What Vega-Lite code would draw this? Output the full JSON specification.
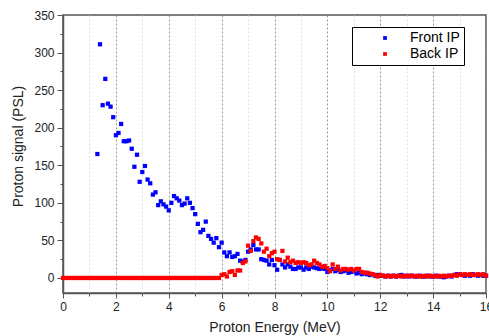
{
"$schema": "https://vega.github.io/schema/vega-lite/v6.json",
"width": 423, "height": 278,
"autosize": {"type": "none"},
"padding": {"left": 63, "top": 15, "right": 3, "bottom": 43},
"background": "white",
"config": {"view": {"stroke": "#555555", "strokeWidth": 1.5}, "font": "Liberation Sans"},
"data": {"values": [
{"s":"Front IP","e":1.3,"v":165},{"s":"Front IP","e":1.4,"v":311},{"s":"Front IP","e":1.5,"v":230},{"s":"Front IP","e":1.6,"v":265},{"s":"Front IP","e":1.7,"v":232},{"s":"Front IP","e":1.8,"v":228},{"s":"Front IP","e":1.9,"v":214},{"s":"Front IP","e":2.0,"v":190},{"s":"Front IP","e":2.1,"v":193},{"s":"Front IP","e":2.2,"v":205},
{"s":"Front IP","e":2.3,"v":182},{"s":"Front IP","e":2.4,"v":182},{"s":"Front IP","e":2.5,"v":183},{"s":"Front IP","e":2.6,"v":172},{"s":"Front IP","e":2.7,"v":148},{"s":"Front IP","e":2.8,"v":164},{"s":"Front IP","e":2.9,"v":128},{"s":"Front IP","e":3.0,"v":141},{"s":"Front IP","e":3.1,"v":149},{"s":"Front IP","e":3.2,"v":131},
{"s":"Front IP","e":3.3,"v":126},{"s":"Front IP","e":3.4,"v":111},{"s":"Front IP","e":3.5,"v":114},{"s":"Front IP","e":3.6,"v":97},{"s":"Front IP","e":3.7,"v":102},{"s":"Front IP","e":3.8,"v":98},{"s":"Front IP","e":3.9,"v":95},{"s":"Front IP","e":4.0,"v":90},{"s":"Front IP","e":4.1,"v":100},{"s":"Front IP","e":4.2,"v":109},
{"s":"Front IP","e":4.3,"v":106},{"s":"Front IP","e":4.4,"v":103},{"s":"Front IP","e":4.5,"v":97},{"s":"Front IP","e":4.6,"v":99},{"s":"Front IP","e":4.7,"v":106},{"s":"Front IP","e":4.8,"v":100},{"s":"Front IP","e":4.9,"v":93},{"s":"Front IP","e":5.0,"v":85},{"s":"Front IP","e":5.1,"v":72},{"s":"Front IP","e":5.2,"v":61},
{"s":"Front IP","e":5.3,"v":64},{"s":"Front IP","e":5.4,"v":75},{"s":"Front IP","e":5.5,"v":56},{"s":"Front IP","e":5.6,"v":52},{"s":"Front IP","e":5.7,"v":47},{"s":"Front IP","e":5.8,"v":53},{"s":"Front IP","e":5.9,"v":41},{"s":"Front IP","e":6.0,"v":47},{"s":"Front IP","e":6.1,"v":34},{"s":"Front IP","e":6.2,"v":29},
{"s":"Front IP","e":6.3,"v":34},{"s":"Front IP","e":6.4,"v":28},{"s":"Front IP","e":6.5,"v":29},{"s":"Front IP","e":6.6,"v":32},{"s":"Front IP","e":6.7,"v":23},{"s":"Front IP","e":6.8,"v":22},{"s":"Front IP","e":6.9,"v":24},{"s":"Front IP","e":7.0,"v":35},{"s":"Front IP","e":7.1,"v":38},{"s":"Front IP","e":7.2,"v":44},
{"s":"Front IP","e":7.3,"v":38},{"s":"Front IP","e":7.4,"v":38},{"s":"Front IP","e":7.5,"v":25},{"s":"Front IP","e":7.6,"v":24},{"s":"Front IP","e":7.7,"v":23},{"s":"Front IP","e":7.8,"v":18},{"s":"Front IP","e":7.9,"v":24},{"s":"Front IP","e":8.0,"v":17},{"s":"Front IP","e":8.1,"v":11},{"s":"Front IP","e":8.2,"v":24},
{"s":"Front IP","e":8.3,"v":18},{"s":"Front IP","e":8.4,"v":14},{"s":"Front IP","e":8.5,"v":18},{"s":"Front IP","e":8.6,"v":15},{"s":"Front IP","e":8.7,"v":12},{"s":"Front IP","e":8.8,"v":12},{"s":"Front IP","e":8.9,"v":14},{"s":"Front IP","e":9.0,"v":14},{"s":"Front IP","e":9.1,"v":11},{"s":"Front IP","e":9.2,"v":14},
{"s":"Front IP","e":9.3,"v":12},{"s":"Front IP","e":9.4,"v":15},{"s":"Front IP","e":9.5,"v":14},{"s":"Front IP","e":9.6,"v":13},{"s":"Front IP","e":9.7,"v":12},{"s":"Front IP","e":9.8,"v":13},{"s":"Front IP","e":9.9,"v":12},{"s":"Front IP","e":10.0,"v":8},{"s":"Front IP","e":10.1,"v":10},{"s":"Front IP","e":10.2,"v":12},
{"s":"Front IP","e":10.3,"v":9},{"s":"Front IP","e":10.4,"v":11},{"s":"Front IP","e":10.5,"v":8},{"s":"Front IP","e":10.6,"v":9},{"s":"Front IP","e":10.7,"v":10},{"s":"Front IP","e":10.8,"v":7},{"s":"Front IP","e":10.9,"v":8},{"s":"Front IP","e":11.0,"v":9},{"s":"Front IP","e":11.1,"v":6},{"s":"Front IP","e":11.2,"v":7},
{"s":"Front IP","e":11.3,"v":5},{"s":"Front IP","e":11.4,"v":6},{"s":"Front IP","e":11.5,"v":5},{"s":"Front IP","e":11.6,"v":4},{"s":"Front IP","e":11.7,"v":5},{"s":"Front IP","e":11.8,"v":3},{"s":"Front IP","e":11.9,"v":4},{"s":"Front IP","e":12.0,"v":3},{"s":"Front IP","e":12.1,"v":3},{"s":"Front IP","e":12.2,"v":2},
{"s":"Front IP","e":12.3,"v":3},{"s":"Front IP","e":12.4,"v":2},{"s":"Front IP","e":12.5,"v":3},{"s":"Front IP","e":12.6,"v":2},{"s":"Front IP","e":12.7,"v":3},{"s":"Front IP","e":12.8,"v":4},{"s":"Front IP","e":12.9,"v":2},{"s":"Front IP","e":13.0,"v":3},{"s":"Front IP","e":13.1,"v":2},{"s":"Front IP","e":13.2,"v":3},
{"s":"Front IP","e":13.3,"v":2},{"s":"Front IP","e":13.4,"v":2},{"s":"Front IP","e":13.5,"v":3},{"s":"Front IP","e":13.6,"v":2},{"s":"Front IP","e":13.7,"v":2},{"s":"Front IP","e":13.8,"v":3},{"s":"Front IP","e":13.9,"v":2},{"s":"Front IP","e":14.0,"v":2},{"s":"Front IP","e":14.1,"v":3},{"s":"Front IP","e":14.2,"v":2},
{"s":"Front IP","e":14.3,"v":2},{"s":"Front IP","e":14.4,"v":1},{"s":"Front IP","e":14.5,"v":2},{"s":"Front IP","e":14.6,"v":3},{"s":"Front IP","e":14.7,"v":2},{"s":"Front IP","e":14.8,"v":4},{"s":"Front IP","e":14.9,"v":5},{"s":"Front IP","e":15.0,"v":5},{"s":"Front IP","e":15.1,"v":4},{"s":"Front IP","e":15.2,"v":3},
{"s":"Front IP","e":15.3,"v":4},{"s":"Front IP","e":15.4,"v":3},{"s":"Front IP","e":15.5,"v":5},{"s":"Front IP","e":15.6,"v":4},{"s":"Front IP","e":15.7,"v":3},{"s":"Front IP","e":15.8,"v":4},{"s":"Front IP","e":15.9,"v":3},{"s":"Front IP","e":16.0,"v":3},
{"s":"Back IP","e":0.0,"v":0},{"s":"Back IP","e":0.1,"v":0},{"s":"Back IP","e":0.2,"v":0},{"s":"Back IP","e":0.3,"v":0},{"s":"Back IP","e":0.4,"v":0},{"s":"Back IP","e":0.5,"v":0},{"s":"Back IP","e":0.6,"v":0},{"s":"Back IP","e":0.7,"v":0},{"s":"Back IP","e":0.8,"v":0},{"s":"Back IP","e":0.9,"v":0},
{"s":"Back IP","e":1.0,"v":0},{"s":"Back IP","e":1.1,"v":0},{"s":"Back IP","e":1.2,"v":0},{"s":"Back IP","e":1.3,"v":0},{"s":"Back IP","e":1.4,"v":0},{"s":"Back IP","e":1.5,"v":0},{"s":"Back IP","e":1.6,"v":0},{"s":"Back IP","e":1.7,"v":0},{"s":"Back IP","e":1.8,"v":0},{"s":"Back IP","e":1.9,"v":0},
{"s":"Back IP","e":2.0,"v":0},{"s":"Back IP","e":2.1,"v":0},{"s":"Back IP","e":2.2,"v":0},{"s":"Back IP","e":2.3,"v":0},{"s":"Back IP","e":2.4,"v":0},{"s":"Back IP","e":2.5,"v":0},{"s":"Back IP","e":2.6,"v":0},{"s":"Back IP","e":2.7,"v":0},{"s":"Back IP","e":2.8,"v":0},{"s":"Back IP","e":2.9,"v":0},
{"s":"Back IP","e":3.0,"v":0},{"s":"Back IP","e":3.1,"v":0},{"s":"Back IP","e":3.2,"v":0},{"s":"Back IP","e":3.3,"v":0},{"s":"Back IP","e":3.4,"v":0},{"s":"Back IP","e":3.5,"v":0},{"s":"Back IP","e":3.6,"v":0},{"s":"Back IP","e":3.7,"v":0},{"s":"Back IP","e":3.8,"v":0},{"s":"Back IP","e":3.9,"v":0},
{"s":"Back IP","e":4.0,"v":0},{"s":"Back IP","e":4.1,"v":0},{"s":"Back IP","e":4.2,"v":0},{"s":"Back IP","e":4.3,"v":0},{"s":"Back IP","e":4.4,"v":0},{"s":"Back IP","e":4.5,"v":0},{"s":"Back IP","e":4.6,"v":0},{"s":"Back IP","e":4.7,"v":0},{"s":"Back IP","e":4.8,"v":0},{"s":"Back IP","e":4.9,"v":0},
{"s":"Back IP","e":5.0,"v":0},{"s":"Back IP","e":5.1,"v":0},{"s":"Back IP","e":5.2,"v":0},{"s":"Back IP","e":5.3,"v":0},{"s":"Back IP","e":5.4,"v":0},{"s":"Back IP","e":5.5,"v":0},{"s":"Back IP","e":5.6,"v":0},{"s":"Back IP","e":5.7,"v":0},{"s":"Back IP","e":5.8,"v":0},{"s":"Back IP","e":5.9,"v":0},
{"s":"Back IP","e":6.0,"v":4},{"s":"Back IP","e":6.1,"v":5},{"s":"Back IP","e":6.2,"v":2},{"s":"Back IP","e":6.3,"v":8},{"s":"Back IP","e":6.4,"v":9},{"s":"Back IP","e":6.5,"v":4},{"s":"Back IP","e":6.6,"v":10},{"s":"Back IP","e":6.7,"v":10},{"s":"Back IP","e":6.8,"v":20},{"s":"Back IP","e":6.9,"v":22},
{"s":"Back IP","e":7.0,"v":43},{"s":"Back IP","e":7.1,"v":36},{"s":"Back IP","e":7.2,"v":49},{"s":"Back IP","e":7.3,"v":54},{"s":"Back IP","e":7.4,"v":52},{"s":"Back IP","e":7.5,"v":46},{"s":"Back IP","e":7.6,"v":35},{"s":"Back IP","e":7.7,"v":39},{"s":"Back IP","e":7.8,"v":29},{"s":"Back IP","e":7.9,"v":33},
{"s":"Back IP","e":8.0,"v":35},{"s":"Back IP","e":8.1,"v":25},{"s":"Back IP","e":8.2,"v":24},{"s":"Back IP","e":8.3,"v":36},{"s":"Back IP","e":8.4,"v":22},{"s":"Back IP","e":8.5,"v":27},{"s":"Back IP","e":8.6,"v":21},{"s":"Back IP","e":8.7,"v":23},{"s":"Back IP","e":8.8,"v":20},{"s":"Back IP","e":8.9,"v":21},
{"s":"Back IP","e":9.0,"v":20},{"s":"Back IP","e":9.1,"v":21},{"s":"Back IP","e":9.2,"v":20},{"s":"Back IP","e":9.3,"v":17},{"s":"Back IP","e":9.4,"v":18},{"s":"Back IP","e":9.5,"v":23},{"s":"Back IP","e":9.6,"v":20},{"s":"Back IP","e":9.7,"v":18},{"s":"Back IP","e":9.8,"v":15},{"s":"Back IP","e":9.9,"v":16},
{"s":"Back IP","e":10.0,"v":13},{"s":"Back IP","e":10.1,"v":9},{"s":"Back IP","e":10.2,"v":18},{"s":"Back IP","e":10.3,"v":12},{"s":"Back IP","e":10.4,"v":15},{"s":"Back IP","e":10.5,"v":10},{"s":"Back IP","e":10.6,"v":12},{"s":"Back IP","e":10.7,"v":12},{"s":"Back IP","e":10.8,"v":11},{"s":"Back IP","e":10.9,"v":12},
{"s":"Back IP","e":11.0,"v":10},{"s":"Back IP","e":11.1,"v":12},{"s":"Back IP","e":11.2,"v":12},{"s":"Back IP","e":11.3,"v":8},{"s":"Back IP","e":11.4,"v":7},{"s":"Back IP","e":11.5,"v":7},{"s":"Back IP","e":11.6,"v":6},{"s":"Back IP","e":11.7,"v":5},{"s":"Back IP","e":11.8,"v":4},{"s":"Back IP","e":11.9,"v":2},
{"s":"Back IP","e":12.0,"v":4},{"s":"Back IP","e":12.1,"v":3},{"s":"Back IP","e":12.2,"v":2},{"s":"Back IP","e":12.3,"v":3},{"s":"Back IP","e":12.4,"v":2},{"s":"Back IP","e":12.5,"v":3},{"s":"Back IP","e":12.6,"v":2},{"s":"Back IP","e":12.7,"v":3},{"s":"Back IP","e":12.8,"v":2},{"s":"Back IP","e":12.9,"v":3},
{"s":"Back IP","e":13.0,"v":2},{"s":"Back IP","e":13.1,"v":3},{"s":"Back IP","e":13.2,"v":3},{"s":"Back IP","e":13.3,"v":2},{"s":"Back IP","e":13.4,"v":3},{"s":"Back IP","e":13.5,"v":2},{"s":"Back IP","e":13.6,"v":2},{"s":"Back IP","e":13.7,"v":3},{"s":"Back IP","e":13.8,"v":2},{"s":"Back IP","e":13.9,"v":3},
{"s":"Back IP","e":14.0,"v":2},{"s":"Back IP","e":14.1,"v":2},{"s":"Back IP","e":14.2,"v":3},{"s":"Back IP","e":14.3,"v":2},{"s":"Back IP","e":14.4,"v":3},{"s":"Back IP","e":14.5,"v":2},{"s":"Back IP","e":14.6,"v":3},{"s":"Back IP","e":14.7,"v":3},{"s":"Back IP","e":14.8,"v":4},{"s":"Back IP","e":14.9,"v":3},
{"s":"Back IP","e":15.0,"v":5},{"s":"Back IP","e":15.1,"v":4},{"s":"Back IP","e":15.2,"v":5},{"s":"Back IP","e":15.3,"v":4},{"s":"Back IP","e":15.4,"v":5},{"s":"Back IP","e":15.5,"v":4},{"s":"Back IP","e":15.6,"v":4},{"s":"Back IP","e":15.7,"v":5},{"s":"Back IP","e":15.8,"v":4},{"s":"Back IP","e":15.9,"v":5},{"s":"Back IP","e":16.0,"v":3}
]},
"mark": {"type": "square", "size": 18, "opacity": 1},
"encoding": {
"x": {"field": "e", "type": "quantitative",
"scale": {"domain": [0, 16], "nice": false, "zero": false},
"axis": {"title": "Proton Energy (MeV)", "values": [0,1,2,3,4,5,6,7,8,9,10,11,12,13,14,15,16],
"labelExpr": "datum.value % 2 === 0 ? datum.label : ''",
"grid": true, "gridDash": [2, 2],
"gridColor": {"condition": {"test": "datum.value % 2 === 1", "value": "#dddddd"}, "value": "#999999"},
"tickSize": {"condition": {"test": "datum.value % 2 === 1", "value": 3}, "value": 5},
"domainColor": "#555555", "domainWidth": 1.5, "tickColor": "#555555", "tickWidth": 1,
"labelFontSize": 12, "labelColor": "#222222", "labelPadding": 3, "labelFlush": false,
"titleFontSize": 14, "titleFontWeight": "normal", "titleColor": "#222222", "titleY": 34, "titleBaseline": "middle"}},
"y": {"field": "v", "type": "quantitative",
"scale": {"domain": [-20, 350], "nice": false, "zero": false},
"axis": {"title": "Proton signal (PSL)", "values": [0,25,50,75,100,125,150,175,200,225,250,275,300,325,350],
"labelExpr": "datum.value % 50 === 0 ? datum.label : ''",
"grid": false,
"tickSize": {"condition": {"test": "datum.value % 50 !== 0", "value": 3}, "value": 6},
"domainColor": "#555555", "domainWidth": 1.5, "tickColor": "#555555", "tickWidth": 1,
"labelFontSize": 12, "labelColor": "#222222", "labelPadding": 3, "labelFlush": false,
"titleFontSize": 14, "titleFontWeight": "normal", "titleColor": "#222222",
"titleX": -45, "titleY": 131, "titleBaseline": "middle", "titleAlign": "center", "titleAngle": 270}},
"color": {"field": "s", "type": "nominal",
"scale": {"domain": ["Front IP", "Back IP"], "range": ["#0000ff", "#ff0000"]},
"legend": {"orient": "none", "legendX": 289, "legendY": 12, "title": null,
"strokeColor": "#000000", "fillColor": "white", "padding": 4,
"symbolType": "square", "symbolSize": 14, "symbolOffset": 22, "symbolStrokeWidth": 0,
"labelOffset": 18, "labelFontSize": 14, "labelColor": "#000000", "rowPadding": 2}}
}
}
